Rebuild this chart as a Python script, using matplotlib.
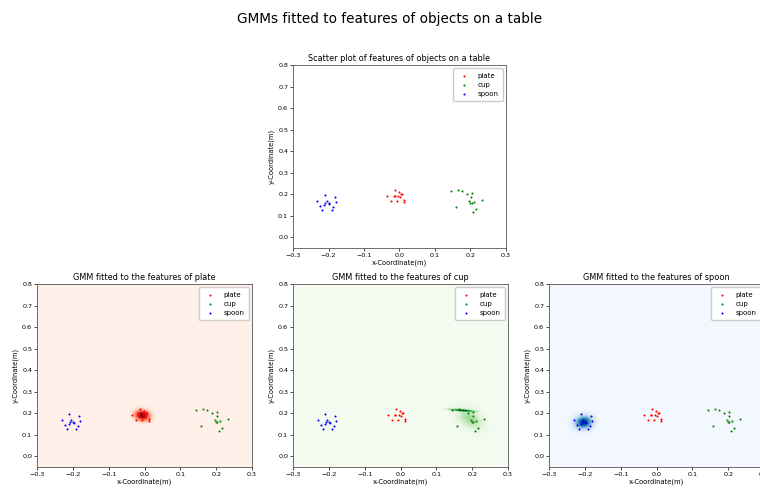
import numpy as np
import matplotlib
matplotlib.use("Agg")
import matplotlib.pyplot as plt

# feature points (x, y in metres)
plate_x = [-0.036, -0.012, -0.016, -0.005, -0.001, 0.003, 0.007, -0.006, -0.024, 0.012, 0.013, 0.002, -0.014]
plate_y = [0.192, 0.220, 0.193, 0.193, 0.212, 0.201, 0.200, 0.169, 0.169, 0.173, 0.164, 0.189, 0.190]
cup_x = [0.145, 0.164, 0.175, 0.189, 0.203, 0.202, 0.197, 0.203, 0.210, 0.233, 0.216, 0.208, 0.159, 0.199]
cup_y = [0.213, 0.218, 0.215, 0.201, 0.207, 0.186, 0.170, 0.158, 0.162, 0.175, 0.133, 0.116, 0.141, 0.160]
spoon_x = [-0.231, -0.211, -0.182, -0.223, -0.212, -0.204, -0.199, -0.198, -0.180, -0.217, -0.191, -0.186, -0.209]
spoon_y = [0.166, 0.195, 0.187, 0.147, 0.149, 0.170, 0.159, 0.155, 0.164, 0.128, 0.128, 0.142, 0.161]

labels = ["plate", "cup", "spoon"]
colors = ["red", "green", "blue"]
cmaps = ["Reds", "Greens", "Blues"]
data = [(plate_x, plate_y), (cup_x, cup_y), (spoon_x, spoon_y)]

W, H = 760, 488
xlim = (-0.3, 0.3)
ylim = (-0.05, 0.8)


def gauss(px, py, X, Y):
    pts = np.column_stack([px, py])
    mu = pts.mean(axis=0)
    cov = np.cov(pts.T) + np.eye(2) * 1e-6
    inv = np.linalg.inv(cov)
    d = np.stack([X - mu[0], Y - mu[1]], axis=-1)
    m = np.einsum("...i,ij,...j->...", d, inv, d)
    return np.exp(-0.5 * m) / (2 * np.pi * np.sqrt(np.linalg.det(cov)))


def components(px, py, name):
    px = np.array(px)
    py = np.array(py)
    if name == "cup":
        # the cup fit has a thin component along the top row of points
        top = py > 0.204
        return [(px[top], py[top]), (px, py)]
    return [(px, py)]


def add_ax(left, top, w, h):
    return fig.add_axes([left / W, 1 - (top + h) / H, w / W, h / H])


def scatter_all(ax, title):
    for (px, py), lab, col in zip(data, labels, colors):
        ax.scatter(px, py, s=2.2, c=col, linewidths=0, label=lab, zorder=3)
    ax.set_xlim(*xlim)
    ax.set_ylim(*ylim)
    ax.set_xticks(np.arange(-0.3, 0.31, 0.1))
    ax.set_yticks(np.arange(0.0, 0.81, 0.1))
    ax.tick_params(labelsize=4.6, length=2, width=0.5, pad=1.5)
    ax.set_title(title, fontsize=5.9, pad=3)
    ax.set_xlabel("x-Coordinate(m)", fontsize=4.9, labelpad=1)
    ax.set_ylabel("y-Coordinate(m)", fontsize=4.9, labelpad=2)
    for sp in ax.spines.values():
        sp.set_linewidth(0.6)
        sp.set_color("#555555")
    ax.legend(loc="upper right", fontsize=5, markerscale=1.0,
              handletextpad=0.9, borderpad=0.6, labelspacing=0.45, framealpha=1)


fig = plt.figure(figsize=(W / 100, H / 100), dpi=100)
fig.suptitle("GMMs fitted to features of objects on a table", fontsize=9.8, x=0.513, y=0.975)

ax0 = add_ax(293, 65, 213, 183)
scatter_all(ax0, "Scatter plot of features of objects on a table")

gx = np.linspace(xlim[0], xlim[1], 500)
gy = np.linspace(ylim[0], ylim[1], 700)
X, Y = np.meshgrid(gx, gy)

lefts = [37, 293, 549]
for i, ((px, py), lab, cm) in enumerate(zip(data, labels, cmaps)):
    ax = add_ax(lefts[i], 284, 215, 183)
    comps = components(px, py, lab)
    Z = np.zeros_like(X)
    for cx, cy in comps:
        Z += gauss(cx, cy, X, Y) * len(cx)
    Z = Z / Z.max()
    ax.pcolormesh(X, Y, Z, cmap=cm, vmin=-0.025, vmax=1.0, shading="auto", zorder=1)
    scatter_all(ax, "GMM fitted to the features of " + lab)

fig.savefig("out.png", dpi=100)
